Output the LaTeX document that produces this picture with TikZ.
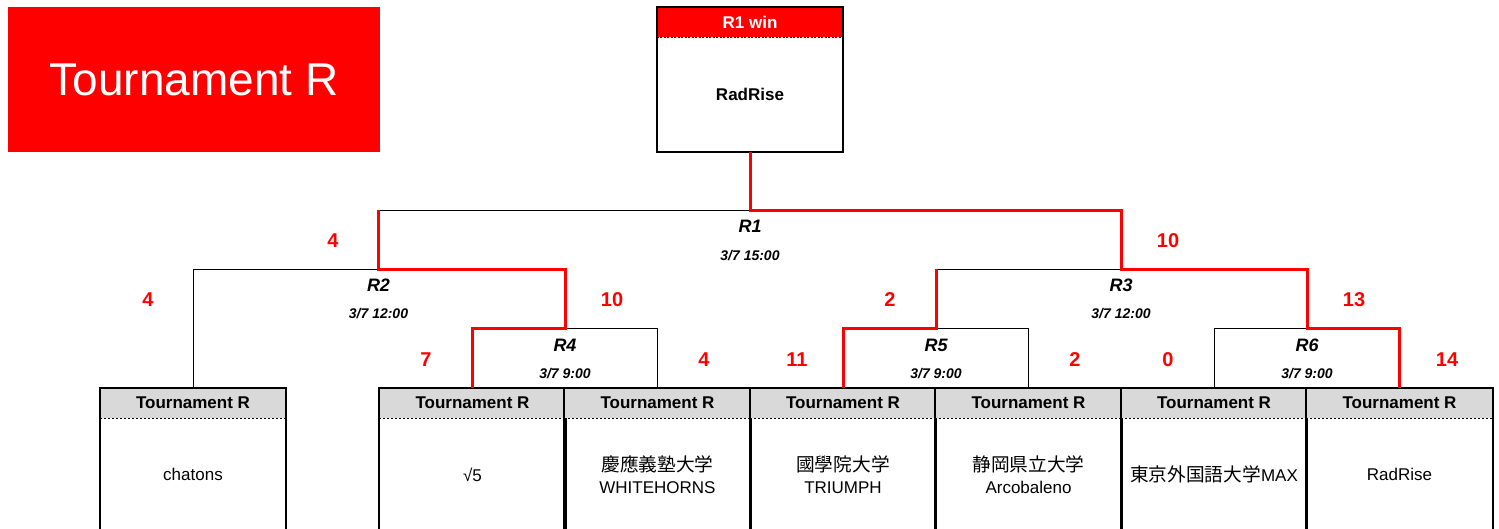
\documentclass[tikz,border=0pt]{standalone}
\usepackage{fontspec}
\setmainfont{Liberation Sans}
\newfontfamily\jp[Scale=1.1]{Noto Sans CJK JP}
\usepackage{xcolor}
\usepackage{tikz}
\usetikzlibrary{positioning}

\definecolor{tred}{RGB}{255,0,0}
\definecolor{headgray}{RGB}{217,217,217}

\begin{document}
\begin{tikzpicture}[x=1pt, y=-1pt,
  bline/.style={black, line width=1pt},
  rline/.style={tred, line width=3pt},
  boxline/.style={black, line width=2pt},
  teamhead/.style={fill=headgray, minimum width=186pt, minimum height=30pt,
    inner sep=0pt, anchor=north, font=\fontsize{17}{20}\selectfont\bfseries},
  teambody/.style={minimum width=186pt, minimum height=112pt, inner sep=0pt,
    align=center, font=\fontsize{17}{22}\selectfont},
  score/.style={text=tred, font=\fontsize{20}{24}\selectfont\bfseries},
  rname/.style={font=\fontsize{18}{20}\selectfont\bfseries\itshape},
  rtime/.style={font=\fontsize{14}{16}\selectfont\bfseries\itshape}]
  \clip (0,0) rectangle (1499,528);

  % title
  \node[fill=tred, text=white, minimum width=372pt, minimum height=145pt,
    inner sep=0pt, font=\fontsize{46}{50}\selectfont] (title) at (194,79.5) {Tournament R};

  % winner box
  \node[fill=tred, text=white, minimum width=186pt, minimum height=30pt, inner sep=0pt,
    anchor=north, font=\fontsize{17}{20}\selectfont\bfseries] (winhead) at (750,7) {R1 win};
  \node[minimum width=186pt, minimum height=114pt, inner sep=0pt, below=0pt of winhead,
    font=\fontsize{17}{20}\selectfont\bfseries] (win) {RadRise};
  \draw[boxline] (winhead.north west) rectangle (win.south east);
  \draw[dashed, line width=0.8pt, dash pattern=on 2pt off 1.5pt] (winhead.south west) -- (winhead.south east);

  % team boxes
  \foreach \i/\x/\team in {1/193/chatons, 2/472.5/{√5}, 3/657.5/{\jp 慶應義塾大学\\WHITEHORNS},
      4/843/{\jp 國學院大学\\TRIUMPH}, 5/1028.5/{\jp 静岡県立大学\\Arcobaleno},
      6/1214/{\jp 東京外国語大学\rmfamily MAX}, 7/1399.5/RadRise} {
    \node[teamhead] (h\i) at (\x,388) {Tournament R};
    \node[teambody, below=0pt of h\i] (t\i) {\team};
    \draw[boxline] (h\i.north west) rectangle (t\i.south east);
    \draw[line width=1.5pt, dash pattern=on 2pt off 2pt] (h\i.south west) -- (h\i.south east);
  }

  % junctions
  \coordinate (m1) at (750,210);
  \coordinate (m2) at (378.5,269);
  \coordinate (m3) at (1121,269);
  \coordinate (m4) at (565,328);
  \coordinate (m5) at (936,328);
  \coordinate (m6) at (1307,328);

  % losers
  \draw[bline] (h1.north) |- (m2);
  \draw[bline] (h3.north) |- (m4);
  \draw[bline] (h5.north) |- (m5);
  \draw[bline] (h6.north) |- (m6);
  \draw[bline] (m2 |- m1) -- (m1);
  \draw[bline] (m5 |- m3) -- (m3);

  % winners
  \draw[rline] (h2.north) |- (m4) -- (m4 |- m2) -- (m2) -- (m2 |- m1);
  \draw[rline] (h4.north) |- (m5) -- (m5 |- m3);
  \draw[rline] (h7.north) |- (m6) -- (m6 |- m3) -- (m3) -- (m3 |- m1) -- (m1) -- (win.south);

  % round names
  \node[rname] (r1) at (750,226) {R1};
  \node[rtime] (d1) at (750,256) {3/7 15:00};
  \node[rname] (r2) at (378.5,285) {R2};
  \node[rtime] (d2) at (378.5,314) {3/7 12:00};
  \node[rname] (r3) at (1121,285) {R3};
  \node[rtime] (d3) at (1121,314) {3/7 12:00};
  \node[rname] (r4) at (565,345) {R4};
  \node[rtime] (d4) at (565,374) {3/7 9:00};
  \node[rname] (r5) at (936,345) {R5};
  \node[rtime] (d5) at (936,374) {3/7 9:00};
  \node[rname] (r6) at (1307,345) {R6};
  \node[rtime] (d6) at (1307,374) {3/7 9:00};

  % scores
  \node[score] (s1a) at (333,241) {4};
  \node[score] (s1b) at (1168,241) {10};
  \node[score] (s2a) at (148,300) {4};
  \node[score] (s2b) at (612,300) {10};
  \node[score] (s3a) at (890,300) {2};
  \node[score] (s3b) at (1354,300) {13};
  \node[score] (s4a) at (426,360) {7};
  \node[score] (s4b) at (704,360) {4};
  \node[score] (s5a) at (797,360) {11};
  \node[score] (s5b) at (1075,360) {2};
  \node[score] (s6a) at (1168,360) {0};
  \node[score] (s6b) at (1447,360) {14};
\end{tikzpicture}
\end{document}
